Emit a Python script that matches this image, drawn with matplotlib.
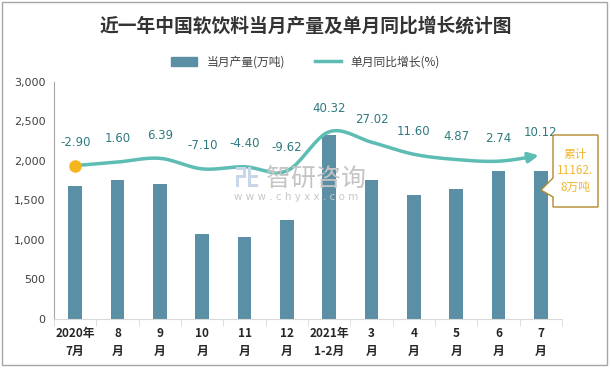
import numpy as np
import matplotlib.pyplot as plt
from matplotlib.patches import Polygon, Rectangle
from matplotlib.lines import Line2D
from matplotlib.patches import Patch

plt.rcParams['font.family'] = ['Noto Sans CJK SC', 'DejaVu Sans']

# 数据
meses = ['2020年\n7月', '8\n月', '9\n月', '10\n月', '11\n月', '12\n月',
         '2021年\n1-2月', '3\n月', '4\n月', '5\n月', '6\n月', '7\n月']
producao = [1684, 1760, 1709, 1076, 1038, 1253, 2329, 1760, 1570, 1646, 1873, 1873]
crescimento = [-2.90, 1.60, 6.39, -7.10, -4.40, -9.62, 40.32, 27.02, 11.60, 4.87, 2.74, 10.12]
rotulos = ['-2.90', '1.60', '6.39', '-7.10', '-4.40', '-9.62', '40.32', '27.02',
           '11.60', '4.87', '2.74', '10.12']

cor_barra = '#5b8fa6'
cor_linha = '#5dbcb3'
cor_rotulo = '#2f7a80'


def catmull_rom(xs, ys, n=20):
    # curva suave passando pelos pontos (só para desenhar a linha)
    xs = np.asarray(xs, float)
    ys = np.asarray(ys, float)
    px = np.concatenate([[2 * xs[0] - xs[1]], xs, [2 * xs[-1] - xs[-2]]])
    py = np.concatenate([[2 * ys[0] - ys[1]], ys, [2 * ys[-1] - ys[-2]]])
    cx, cy = [], []
    t = np.linspace(0, 1, n, endpoint=False)
    for i in range(1, len(px) - 2):
        for p, out in ((px, cx), (py, cy)):
            p0, p1, p2, p3 = p[i - 1], p[i], p[i + 1], p[i + 2]
            out.extend(0.5 * ((2 * p1) + (-p0 + p2) * t
                              + (2 * p0 - 5 * p1 + 4 * p2 - p3) * t ** 2
                              + (-p0 + 3 * p1 - 3 * p2 + p3) * t ** 3))
    cx.append(xs[-1])
    cy.append(ys[-1])
    return np.array(cx), np.array(cy)


def fig_xy(px, py):
    # converte pixels da imagem em coordenadas da figura
    return px / 611, 1 - py / 368


fig = plt.figure(figsize=(6.11, 3.68), dpi=100)
fig.patches.append(Rectangle((0.004, 0.008), 0.99, 0.986, transform=fig.transFigure,
                             fill=False, edgecolor='#a6a6a6', lw=1))

ax = fig.add_axes([0.0884, 0.1332, 0.8314, 0.644])
x = np.arange(len(meses))
ax.bar(x, producao, width=0.32, color=cor_barra, zorder=2)
ax.set_xlim(-0.5, len(meses) - 0.5)
ax.set_ylim(0, 3000)
ax.set_yticks(np.arange(0, 3001, 500))
ax.set_yticklabels([f'{v:,}' for v in range(0, 3001, 500)], fontsize=8, color='#404040',
                   family='DejaVu Sans')
ax.set_xticks(x)
ax.set_xticklabels(meses, fontsize=8.5, fontweight='bold', color='#262626', linespacing=1.5)
ax.set_xticks(np.arange(-0.5, len(meses), 1), minor=True)
ax.tick_params(axis='x', which='major', length=0, pad=6)
ax.tick_params(axis='x', which='minor', length=5, color='#d9d9d9')
ax.tick_params(axis='y', length=0, pad=6)
for s in ['top', 'right']:
    ax.spines[s].set_visible(False)
ax.spines['left'].set_color('#a6a6a6')
ax.spines['bottom'].set_color('#d9d9d9')

# eixo secundário para o crescimento
ax2 = ax.twinx()
ax2.set_ylim(-199, 104)
ax2.axis('off')
cx, cy = catmull_rom(x, crescimento)
ax2.plot(cx[:-6], cy[:-6], color=cor_linha, lw=2.5, zorder=3, solid_capstyle='round')
ax2.annotate('', xy=(cx[-1] - 0.05, cy[-1]), xytext=(cx[-7], cy[-7]),
             arrowprops=dict(arrowstyle='-|>,head_length=0.6,head_width=0.3',
                             color=cor_linha, lw=2.5, shrinkA=0, shrinkB=0), zorder=3)
ax2.plot(x[0], crescimento[0], 'o', color='#f5b51e', ms=8, zorder=4)
for xi, yi, r in zip(x, crescimento, rotulos):
    ax2.annotate(r, (xi, yi), xytext=(0, 12), textcoords='offset points', ha='center',
                 va='bottom', fontsize=8.5, color=cor_rotulo, family='DejaVu Sans')

# marca d'água
fig.text(*fig_xy(266, 179), '智研咨询', fontsize=18, color='#c4c4c4', ha='left', va='center')
fig.text(*fig_xy(234, 197), 'w w w . c h y x x . c o m', fontsize=7.5, color='#c8c8c8',
         ha='left', va='center', family='DejaVu Sans')
for (px, py, w, h) in [(236, 167, 10, 3), (243, 167, 3, 11), (236, 175, 10, 3),
                       (236, 175, 3, 12), (248, 167, 3, 20), (248, 184, 10, 3),
                       (251, 175, 7, 3)]:
    x0, y0 = fig_xy(px, py + h)
    fig.patches.append(Rectangle((x0, y0), w / 611, h / 368, transform=fig.transFigure,
                                 facecolor='#c9d6ea', edgecolor='none', zorder=1))

# caixa do acumulado
caixa = [(553, 135), (598, 135), (598, 207), (553, 207), (553, 197), (541, 190), (553, 178)]
caixa = [fig_xy(px, py) for px, py in caixa]
fig.patches.append(Polygon(caixa, closed=True, transform=fig.transFigure,
                           facecolor='white', edgecolor='#b08a2e', lw=1, zorder=5))
fig.text(*fig_xy(575.5, 171), '累计\n11162.\n8万吨', fontsize=8.5, color='#f2b731',
         ha='center', va='center', linespacing=1.35, zorder=6)

# título e legenda
fig.text(*fig_xy(305.5, 26), '近一年中国软饮料当月产量及单月同比增长统计图', fontsize=13.5,
         fontweight='bold', color='#333333', ha='center', va='center')
handles = [Patch(color=cor_barra), Line2D([0], [0], color=cor_linha, lw=2.5)]
fig.legend(handles, ['当月产量(万吨)', '单月同比增长(%)'], loc='center',
           bbox_to_anchor=fig_xy(305.5, 62), ncol=2, frameon=False, fontsize=8.5,
           handlelength=2.2, columnspacing=2.5, labelcolor='#404040')

plt.savefig('out.png', dpi=100)
plt.close()
